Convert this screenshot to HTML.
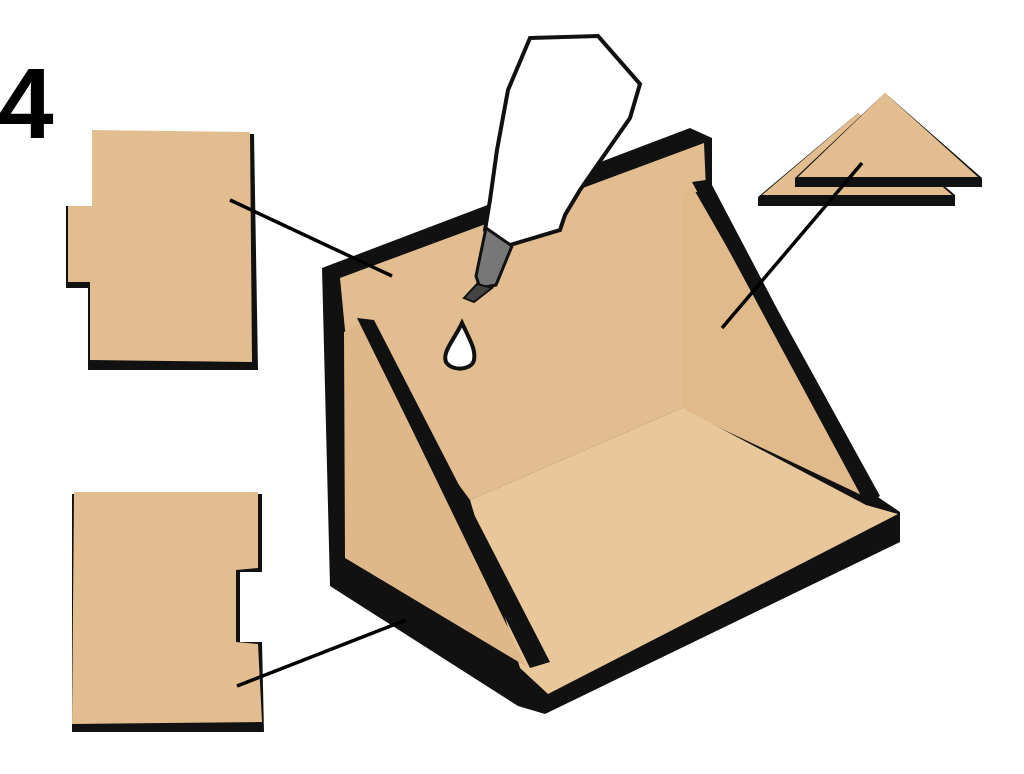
<!DOCTYPE html>
<html><head><style>
html,body{margin:0;padding:0;background:#fff;width:1024px;height:774px;overflow:hidden}
svg{display:block}
</style></head><body>
<svg width="1024" height="774" viewBox="0 0 1024 774" xmlns="http://www.w3.org/2000/svg">
<text x="-2" y="138" font-family="Liberation Sans, sans-serif" font-weight="bold" font-size="100" fill="#000">4</text>

<!-- top-left piece -->
<polygon points="92,134 254,134 258,370 88,370 88,288 66,288 66,206 92,206" fill="#111"/>
<polygon points="92,130 250,132 252,362 90,360 90,282 68,282 68,206 92,206" fill="#e2bd8f"/>
<!-- bottom-left piece -->
<polygon points="72,494 262,494 262,572 240,572 240,642 262,642 264,732 72,732" fill="#111"/>
<polygon points="74,492 258,492 258,568 236,570 236,642 258,644 262,722 72,724" fill="#e2bd8f"/>
<polygon points="242,576 266,576 266,640 244,640" fill="#fff"/>

<!-- triangles -->
<polygon points="858,113 758,197 758,206 955,206 955,195" fill="#111"/>
<polygon points="858,113 762,195 952,195" fill="#e2bd8f"/>
<polygon points="885,93 795,178 795,187 982,187 982,178" fill="#111"/>
<polygon points="885,93 798,177 978,177" fill="#e2bd8f"/>

<!-- box -->
<polygon points="322,268 690,128 712,138 712,185 875,495 900,512 900,542 545,714 518,706 330,586" fill="#111"/>
<polygon points="340,278 704,143 706,190 682,195 682,408 470,500 345,330" fill="#e2bd8f"/>
<polygon points="682,195 692,186 872,500 682,410" fill="#e0ba8a"/>
<polygon points="692,182 706,180 880,496 866,505" fill="#111"/>
<polygon points="470,500 682,408 866,505 898,514 548,694 520,668" fill="#e8c79a"/>
<polygon points="344,332 360,322 527,667 345,558" fill="#dfb889"/>
<polygon points="357,318 374,320 550,662 530,668" fill="#111"/>

<!-- leader lines -->
<g stroke="#000" stroke-width="3.5">
<line x1="230" y1="200" x2="392" y2="276"/>
<line x1="237" y1="686" x2="406" y2="620"/>
<line x1="862" y1="163" x2="722" y2="328"/>
</g>

<!-- bottle -->
<polygon points="530,38 598,36 640,84 630,118 580,190 565,215 560,230 510,245 485,230 490,200 497,150 508,90" fill="#fff" stroke="#111" stroke-width="4"/>
<polygon points="486,228 512,246 496,285 480,288 476,276" fill="#777" stroke="#111" stroke-width="3"/>
<polygon points="477,284 492,288 474,302 464,298" fill="#444" stroke="#111" stroke-width="2"/>
<path d="M462,323 C470,340 476,350 474,360 C472,370 452,372 446,362 C442,352 454,340 462,323 Z" fill="#fff" stroke="#111" stroke-width="4"/>
</svg>
</body></html>
